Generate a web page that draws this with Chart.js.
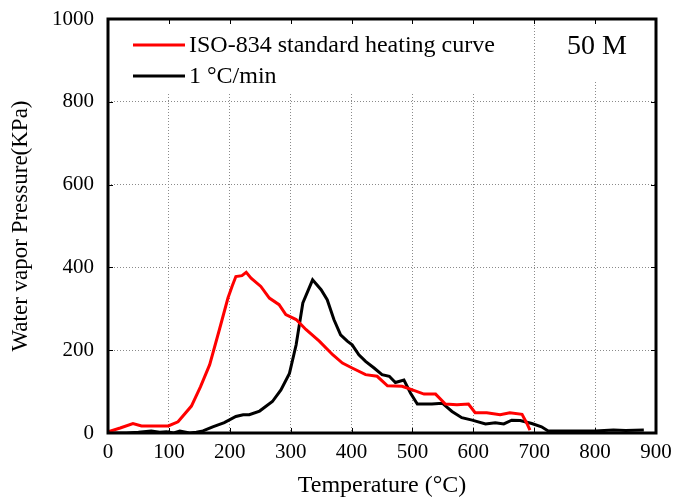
<!DOCTYPE html>
<html>
<head>
<meta charset="utf-8">
<script src="https://cdn.jsdelivr.net/npm/chart.js@4/dist/chart.umd.min.js"></script>
<style>
  html, body { margin: 0; padding: 0; background: #fff; }
  #wrap { width: 693px; height: 500px; }
</style>
</head>
<body>
<div id="wrap"><canvas id="vaporChart"></canvas></div>
<script>
// ISO-834 standard heating curve
const isoTemp = [0, 20, 41, 55, 75, 99, 115, 137, 152, 167, 183, 197, 204, 210, 220, 227, 235, 251, 265, 281, 292, 309, 325, 347, 369, 385, 401, 423, 442, 459, 483, 500, 519, 538, 554, 573, 592, 603, 622, 644, 660, 680, 688, 693];
const isoPress = [3, 12, 23, 17, 17, 17, 27, 65, 112, 165, 250, 326, 355, 378, 380, 388, 374, 354, 326, 310, 286, 274, 250, 222, 189, 169, 157, 141, 137, 114, 113, 104, 94, 94, 70, 68, 70, 49, 49, 44, 49, 45, 23, 7];

// 1 °C/min
const slowTemp = [0, 30, 50, 71, 85, 96, 108, 118, 134, 145, 156, 172, 191, 210, 222, 232, 249, 270, 284, 298, 309, 320, 336, 350, 360, 371, 382, 393, 401, 412, 423, 437, 450, 462, 472, 486, 497, 508, 532, 549, 565, 581, 598, 620, 636, 650, 663, 677, 696, 712, 723, 750, 800, 830, 850, 880];
const slowPress = [0, 0, 2, 5, 2, 3, 0, 5, 0, 2, 5, 15, 25, 40, 44, 44, 53, 76, 104, 144, 213, 314, 370, 346, 322, 274, 237, 222, 213, 189, 173, 157, 141, 137, 122, 128, 96, 70, 70, 72, 52, 37, 31, 22, 25, 22, 31, 30, 23, 15, 5, 5, 5, 7, 6, 7];

const xTicks = [0, 100, 200, 300, 400, 500, 600, 700, 800, 900];
const yTicks = [0, 200, 400, 600, 800, 1000];

const seriesNames = ['ISO-834 standard heating curve', '1 \u00B0C/min'];
const seriesColors = ['#ff0000', '#000000'];
const panelLabel = '50 M';

const SERIF = "'Liberation Serif', 'Times New Roman', serif";

const toPoints = (xs, ys) => xs.map((x, i) => ({ x: x, y: ys[i] }));

// white boxes, legend and the "50 M" tag inside the plot area
const insideLegend = {
  id: 'insideLegend',
  afterDatasetsDraw(chart) {
    const { ctx, chartArea } = chart;
    ctx.save();
    ctx.fillStyle = '#fff';
    ctx.fillRect(chartArea.left, chartArea.top, 412, 73);
    ctx.fillRect(548, chartArea.top, 106, 62);

    ctx.font = '24px ' + SERIF;
    ctx.textBaseline = 'middle';
    ctx.textAlign = 'left';
    const rows = [45, 76];
    chart.data.datasets.forEach((ds, i) => {
      ctx.strokeStyle = ds.borderColor;
      ctx.lineWidth = 3;
      ctx.beginPath();
      ctx.moveTo(133, rows[i]);
      ctx.lineTo(185, rows[i]);
      ctx.stroke();
      ctx.fillStyle = '#000';
      ctx.fillText(ds.label, 189, rows[i] + 1);
    });

    ctx.font = '28px ' + SERIF;
    ctx.textAlign = 'center';
    ctx.fillText(panelLabel, 597, 47);
    ctx.restore();
  },
  afterDraw(chart) {
    const { ctx, chartArea, scales } = chart;
    ctx.save();
    ctx.strokeStyle = '#000';
    ctx.lineWidth = 1;
    const t = 5;
    ctx.beginPath();
    xTicks.forEach(v => {
      const px = Math.round(scales.x.getPixelForValue(v)) + 0.5;
      ctx.moveTo(px, chartArea.bottom);
      ctx.lineTo(px, chartArea.bottom - t);
      ctx.moveTo(px, chartArea.top);
      ctx.lineTo(px, chartArea.top + t);
    });
    yTicks.forEach(v => {
      const py = Math.round(scales.y.getPixelForValue(v)) + 0.5;
      ctx.moveTo(chartArea.left, py);
      ctx.lineTo(chartArea.left + t, py);
      ctx.moveTo(chartArea.right, py);
      ctx.lineTo(chartArea.right - t, py);
    });
    ctx.stroke();
    ctx.lineWidth = 3;
    ctx.strokeRect(chartArea.left, chartArea.top, chartArea.right - chartArea.left, chartArea.bottom - chartArea.top);
    ctx.restore();
  }
};

const ctx = document.getElementById('vaporChart').getContext('2d');
const vaporChart = new Chart(ctx, {
  type: 'line',
  data: {
    datasets: [{
      label: seriesNames[0],
      data: toPoints(isoTemp, isoPress),
      borderColor: seriesColors[0],
      backgroundColor: seriesColors[0],
      borderWidth: 3,
      pointRadius: 0,
      tension: 0
    }, {
      label: seriesNames[1],
      data: toPoints(slowTemp, slowPress),
      borderColor: seriesColors[1],
      backgroundColor: seriesColors[1],
      borderWidth: 3,
      pointRadius: 0,
      tension: 0
    }]
  },
  options: {
    responsive: true,
    maintainAspectRatio: false,
    animation: false,
    layout: {
      padding: { top: 19, right: 37, left: 0, bottom: 0 }
    },
    plugins: {
      legend: { display: false },
      tooltip: { enabled: false }
    },
    scales: {
      x: {
        type: 'linear',
        min: 0,
        max: 900,
        afterBuildTicks: (scale) => { scale.ticks = xTicks.map(v => ({ value: v })); },
        afterFit: (scale) => { scale.height = 67; scale.paddingLeft = 0; scale.paddingRight = 0; },
        ticks: {
          color: '#000',
          font: { family: SERIF, size: 21 },
          padding: 7,
          maxRotation: 0,
          callback: (value) => String(value)
        },
        grid: { color: '#8a8a8a', lineWidth: 1, drawTicks: false },
        border: { display: false, dash: [1, 2] },
        title: {
          display: true,
          text: 'Temperature (\u00B0C)',
          color: '#000',
          font: { family: SERIF, size: 24 },
          padding: { top: 2, bottom: 0 }
        }
      },
      y: {
        min: 0,
        max: 1000,
        afterBuildTicks: (scale) => { scale.ticks = yTicks.map(v => ({ value: v })); },
        afterFit: (scale) => { scale.width = 108; scale.paddingTop = 0; scale.paddingBottom = 0; },
        ticks: {
          color: '#000',
          font: { family: SERIF, size: 21 },
          padding: 14,
          callback: (value) => String(value)
        },
        grid: { color: '#8a8a8a', lineWidth: 1, drawTicks: false },
        border: { display: false, dash: [1, 2] },
        title: {
          display: true,
          text: 'Water vapor Pressure(KPa)',
          color: '#000',
          font: { family: SERIF, size: 23 },
          padding: { top: 7, bottom: 7 }
        }
      }
    }
  },
  plugins: [insideLegend]
});
</script>
</body>
</html>
